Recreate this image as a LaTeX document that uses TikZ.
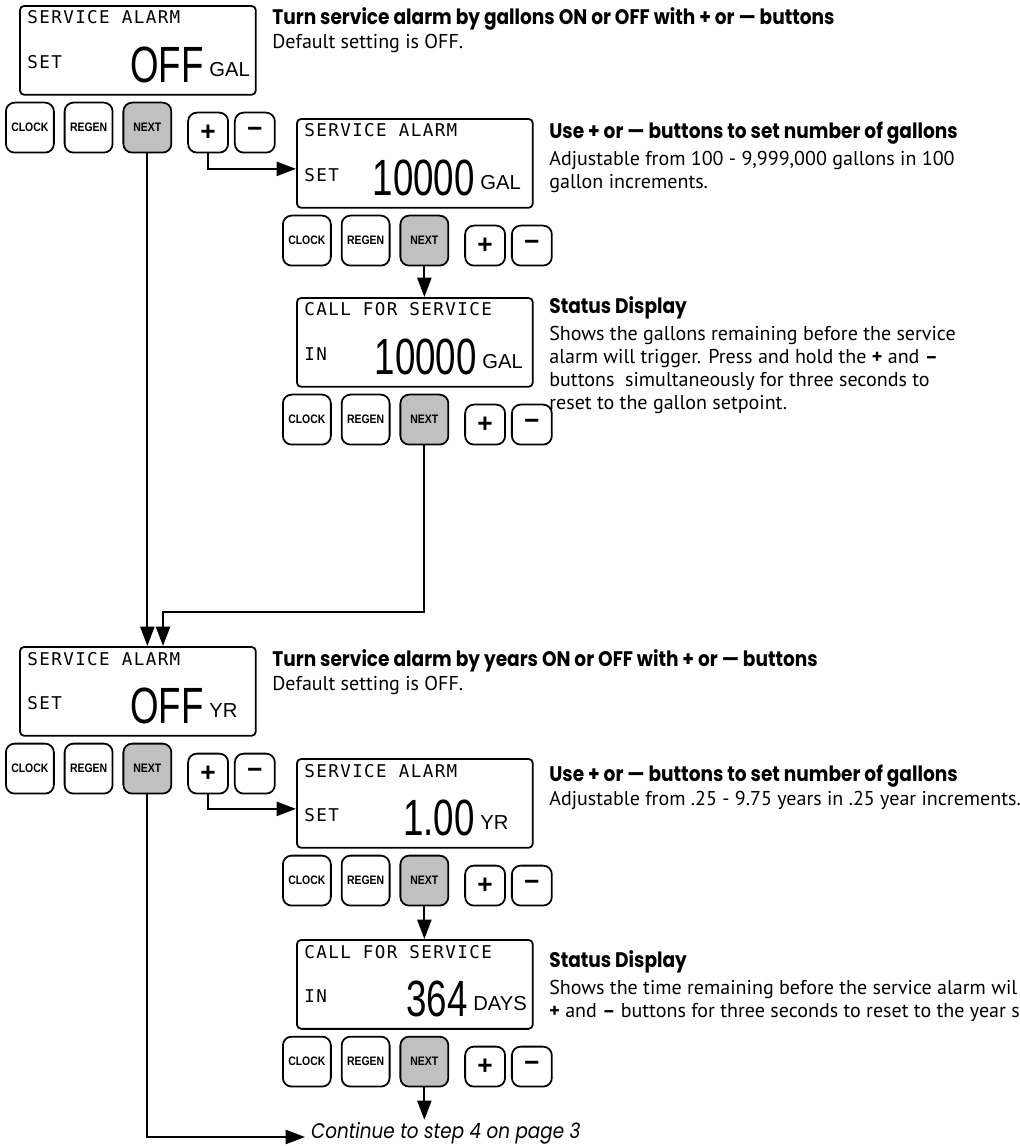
\documentclass[tikz,border=0pt]{standalone}
\usepackage{fontspec}
\usepackage{tikz}
\usetikzlibrary{arrows.meta,positioning}
\setmainfont{PT Sans}
\newfontfamily\headfont[FakeStretch=0.88]{Poppins}
\newfontfamily\lcdfont[LetterSpace=8]{DejaVu Sans Mono}
\newfontfamily\digitfont[FakeStretch=0.72]{Liberation Sans}
\newfontfamily\unitfont{Liberation Sans}
\newfontfamily\keyfont[FakeStretch=0.85]{Liberation Sans}
\newfontfamily\contfont[FakeStretch=0.87]{Poppins}
\definecolor{keygray}{RGB}{192,192,192}

% display with its row of keys: name, x, y, title, label, value, unit, value edge
\newcommand{\lcdpanel}[8]{%
  \node[lcd] (#1) at (#2,#3) {};
  \node[lcdtxt] (#1title) at ([xshift=0.16cm,yshift=-0.38cm]#1.north west) {#4};
  \node[lcdtxt] (#1label) at ([xshift=0.16cm,yshift=0.54cm]#1.south west) {#5};
  \node[bigdigits] (#1value) at ([xshift=#8,yshift=0.26cm]#1.south west) {#6};
  \node[unittxt] (#1unit) at ([xshift=0.1cm,yshift=0.12cm]#1value.base east) {#7};
  \node[key, anchor=north west] (#1clock) at ([xshift=-0.28cm,yshift=-0.12cm]#1.south west) {CLOCK};
  \node[key, right=0.18cm of #1clock] (#1regen) {REGEN};
  \node[key, fill=keygray, right=0.18cm of #1regen] (#1next) {NEXT};
  \node[smallkey, anchor=south west] (#1plus) at ([xshift=0.3cm]#1next.south east) {+};
  \node[smallkey, right=0.1cm of #1plus] (#1minus) {−};
}

\begin{document}
\begin{tikzpicture}[x=0.02cm, y=-0.02cm, >={Triangle[width=8pt,length=11pt]},
  lcd/.style={draw, line width=1pt, rounded corners=2.5pt, minimum width=4.72cm, minimum height=1.78cm, anchor=north west, inner sep=0pt},
  lcdtxt/.style={inner sep=0pt, anchor=base west, font=\lcdfont\fontsize{10}{12}\selectfont},
  bigdigits/.style={inner sep=0pt, anchor=base east, font=\digitfont\fontsize{29}{30}\selectfont},
  unittxt/.style={inner sep=0pt, anchor=base west, font=\unitfont\fontsize{11.5}{13}\selectfont},
  key/.style={draw, line width=1pt, rounded corners=5pt, minimum width=0.96cm, minimum height=1cm, inner sep=0pt, font=\keyfont\bfseries\fontsize{7}{8}\selectfont},
  smallkey/.style={draw, line width=1pt, rounded corners=5pt, minimum size=0.8cm, inner sep=0pt, font=\unitfont\bfseries\fontsize{15}{15}\selectfont},
  flow/.style={->, line width=1.2pt},
  headtxt/.style={inner sep=0pt, anchor=base west, font=\headfont\bfseries\fontsize{12}{14}\selectfont},
  bodytxt/.style={inner sep=0pt, anchor=base west, align=left, font=\fontsize{11.4}{13}\selectfont}]
  \clip (0,0) rectangle (1019,1146);

  \lcdpanel{d1}{19}{5}{SERVICE ALARM}{SET}{OFF}{GAL}{3.7cm}
  \lcdpanel{d2}{296}{118}{SERVICE ALARM}{SET}{10000}{GAL}{3.58cm}
  \lcdpanel{d3}{296}{297}{CALL FOR SERVICE}{IN}{10000}{GAL}{3.62cm}
  \lcdpanel{d4}{19}{646}{SERVICE ALARM}{SET}{OFF}{YR}{3.7cm}
  \lcdpanel{d5}{296}{758}{SERVICE ALARM}{SET}{1.00}{YR}{3.58cm}
  \lcdpanel{d6}{296}{939}{CALL FOR SERVICE}{IN}{364}{DAYS}{3.44cm}

  \node[headtxt] (h1) at (272,25) {Turn service alarm by gallons ON or OFF with + or — buttons};
  \node[bodytxt] (b1) at (272,49) {Default setting is OFF.};
  \node[headtxt] (h2) at (549,138) {Use + or — buttons to set number of gallons};
  \node[bodytxt] (b2) at (549,188) {Adjustable from 100 - 9,999,000 gallons in 100\\gallon increments.};
  \node[headtxt] (h3) at (549,313) {Status Display};
  \node[bodytxt] (b3) at (549,409) {Shows the gallons remaining before the service\\alarm will trigger. Press and hold the \textbf{+} and \textbf{–}\\buttons~ simultaneously for three seconds to\\reset to the gallon setpoint.};
  \node[headtxt] (h4) at (272,666) {Turn service alarm by years ON or OFF with + or — buttons};
  \node[bodytxt] (b4) at (272,690) {Default setting is OFF.};
  \node[headtxt] (h5) at (549,781) {Use + or — buttons to set number of gallons};
  \node[bodytxt] (b5) at (549,805) {Adjustable from .25 - 9.75 years in .25 year increments.};
  \node[headtxt] (h6) at (549,967) {Status Display};
  \node[bodytxt] (b6) at (549,1017) {Shows the time remaining before the service alarm wil\\\textbf{+} and \textbf{–} buttons for three seconds to reset to the year s};
  \node[inner sep=1pt, anchor=base west, font=\contfont\itshape\fontsize{12}{14}\selectfont] (cont) at (309,1138) {Continue to step 4 on page 3};

  \coordinate (bend) at (163,612);
  \draw[flow] (d1plus.south) |- ([yshift=-0.11cm]d2.west);
  \draw[flow] (d2next.south) -- (d2next.south |- d3.north);
  \draw[flow] (d1next.south) -- (d1next.south |- d4.north);
  \draw[flow] (d3next.south) |- (bend) -- (bend |- d4.north);
  \draw[flow] (d4plus.south) |- ([yshift=-0.11cm]d5.west);
  \draw[flow] (d5next.south) -- (d5next.south |- d6.north);
  \draw[flow] (d6next.south) -- (d6next.south |- cont.north);
  \draw[flow] (d4next.south) |- ([xshift=-0.08cm,yshift=0.02cm]cont.base west);
\end{tikzpicture}
\end{document}
